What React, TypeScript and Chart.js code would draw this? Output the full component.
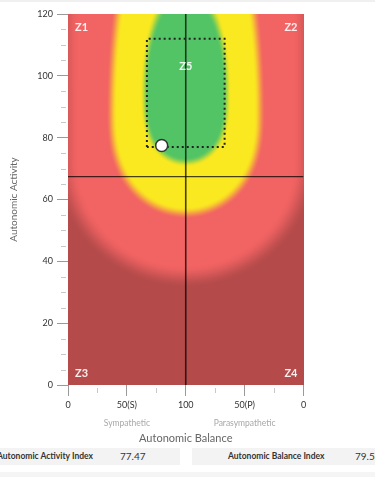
import React, { useEffect, useRef } from 'react';
import { Chart, registerables } from 'chart.js';

Chart.register(...registerables);

// ---- data ----
const X_TICK_VALUES = [0, 50, 100, 150, 200];
const X_TICK_LABELS = ['0', '50(S)', '100', '50(P)', '0'];
const Y_TICK_VALUES = [0, 20, 40, 60, 80, 100, 120];
const X_MINOR_TICKS = [25, 75, 125, 175];
const Y_MINOR_TICKS = [5, 10, 15, 25, 30, 35, 45, 50, 55, 65, 70, 75, 85, 90, 95, 105, 110, 115];
const BALANCE_INDEX = 79.56;
const ACTIVITY_INDEX = 77.47;
const CROSS_X = 100;
const CROSS_Y = 67.4;
const TARGET_X = [67, 133];
const TARGET_Y = [77, 112];
// zone shapes: [centerX, centerY, radiusX, radiusYAbove, radiusYBelow, exponentBelow]
const GREEN_ZONE = [100, 95, 35, 33.6, 23, 3];
const YELLOW_ZONE = [100, 88, 63, 82, 32.4, 2.5];
const RED_ZONE = [100, 72, 101, 1000, 37, 2];
const ZONE_NAMES = ['Z1', 'Z2', 'Z3', 'Z4', 'Z5'];
const Z5_POS = [100, 103];
const X_SIDE_LABELS = ['Sympathetic', 'Parasympathetic'];
const X_SIDE_POS = [50, 150];
const X_TITLE = 'Autonomic Balance';
const Y_TITLE = 'Autonomic Activity';

const COL_DARK = [180, 74, 74];
const COL_RED = [242, 99, 99];
const COL_YELLOW = [250, 232, 32];
const COL_GREEN = [82, 196, 102];

const FONT = 'Lato, "Open Sans", sans-serif';

function zoneAlpha(z: number[], x: number, y: number, soft: number) {
  const [cx, cy, rx, ryT, ryB, pB] = z;
  const dx = Math.abs(x - cx) / rx;
  let f: number;
  if (y >= cy) {
    const dy = (y - cy) / ryT;
    f = dx * dx + dy * dy;
  } else {
    const dy = (cy - y) / ryB;
    f = dx * dx + Math.pow(dy, pB);
  }
  const r = Math.sqrt(f);
  let t = (1 + soft - r) / (2 * soft);
  t = Math.max(0, Math.min(1, t));
  return t * t * (3 - 2 * t);
}

const heatmapPlugin = {
  id: 'heatmap',
  beforeDatasetsDraw(chart: any) {
    const { ctx, chartArea, scales } = chart;
    const xs = scales.x;
    const ys = scales.y;
    const l = Math.round(chartArea.left);
    const t = Math.round(chartArea.top);
    const w = Math.round(chartArea.right) - l;
    const h = Math.round(chartArea.bottom) - t;
    const off = document.createElement('canvas');
    off.width = w;
    off.height = h;
    const octx = off.getContext('2d')!;
    const img = octx.createImageData(w, h);
    const layers: [number[], number[], number][] = [
      [RED_ZONE, COL_RED, 0.1],
      [YELLOW_ZONE, COL_YELLOW, 0.075],
      [GREEN_ZONE, COL_GREEN, 0.1],
    ];
    for (let j = 0; j < h; j++) {
      const yv = ys.getValueForPixel(t + j + 0.5);
      for (let i = 0; i < w; i++) {
        const xv = xs.getValueForPixel(l + i + 0.5);
        let c = COL_DARK.slice();
        for (const [z, col, s] of layers) {
          const a = zoneAlpha(z, xv, yv, s);
          if (a > 0) {
            c = [c[0] + (col[0] - c[0]) * a, c[1] + (col[1] - c[1]) * a, c[2] + (col[2] - c[2]) * a];
          }
        }
        const k = (j * w + i) * 4;
        img.data[k] = c[0];
        img.data[k + 1] = c[1];
        img.data[k + 2] = c[2];
        img.data[k + 3] = 255;
      }
    }
    octx.putImageData(img, 0, 0);
    ctx.save();
    ctx.drawImage(off, l, t);
    ctx.restore();
  },
  afterDraw(chart: any) {
    const { ctx, chartArea, scales } = chart;
    const xs = scales.x;
    const ys = scales.y;
    ctx.save();
    // minor ticks
    ctx.strokeStyle = '#c8c8c8';
    ctx.lineWidth = 1;
    for (const v of Y_MINOR_TICKS) {
      const py = Math.round(ys.getPixelForValue(v)) + 0.5;
      ctx.beginPath();
      ctx.moveTo(chartArea.left - 7, py);
      ctx.lineTo(chartArea.left - 2, py);
      ctx.stroke();
    }
    for (const v of X_MINOR_TICKS) {
      const px = Math.round(xs.getPixelForValue(v)) + 0.5;
      ctx.beginPath();
      ctx.moveTo(px, chartArea.bottom + 3);
      ctx.lineTo(px, chartArea.bottom + 8);
      ctx.stroke();
    }
    // side labels
    ctx.fillStyle = '#a8a8a8';
    ctx.font = `8.5px ${FONT}`;
    ctx.textAlign = 'center';
    ctx.textBaseline = 'middle';
    X_SIDE_LABELS.forEach((s, i) => {
      ctx.fillText(s, xs.getPixelForValue(X_SIDE_POS[i]), chartArea.bottom + 38);
    });
    // zone labels
    ctx.fillStyle = 'rgba(255,255,255,0.9)';
    ctx.font = `bold 11px ${FONT}`;
    ctx.textBaseline = 'middle';
    ctx.textAlign = 'left';
    ctx.fillText(ZONE_NAMES[0], chartArea.left + 7, chartArea.top + 13);
    ctx.fillText(ZONE_NAMES[2], chartArea.left + 7, chartArea.bottom - 12);
    ctx.textAlign = 'right';
    ctx.fillText(ZONE_NAMES[1], chartArea.right - 6, chartArea.top + 13);
    ctx.fillText(ZONE_NAMES[3], chartArea.right - 6, chartArea.bottom - 12);
    ctx.textAlign = 'center';
    ctx.fillText(ZONE_NAMES[4], xs.getPixelForValue(Z5_POS[0]), ys.getPixelForValue(Z5_POS[1]));
    ctx.restore();
  },
};

export default function App() {
  const ref = useRef<HTMLCanvasElement>(null);
  useEffect(() => {
    if (!ref.current) return;
    const chart = new Chart(ref.current, {
      type: 'scatter',
      data: {
        datasets: [
          {
            data: [{ x: BALANCE_INDEX, y: ACTIVITY_INDEX }],
            pointRadius: 6,
            pointBackgroundColor: '#ffffff',
            pointBorderColor: '#333333',
            pointBorderWidth: 1.5,
          },
          {
            data: [
              { x: TARGET_X[0], y: TARGET_Y[0] },
              { x: TARGET_X[0], y: TARGET_Y[1] },
              { x: TARGET_X[1], y: TARGET_Y[1] },
              { x: TARGET_X[1], y: TARGET_Y[0] },
              { x: TARGET_X[0], y: TARGET_Y[0] },
            ],
            showLine: true,
            borderColor: '#222222',
            borderWidth: 2,
            borderDash: [2, 3],
            pointRadius: 0,
            fill: false,
          },
          {
            data: [
              { x: CROSS_X, y: 0 },
              { x: CROSS_X, y: 120 },
            ],
            showLine: true,
            borderColor: 'rgba(0,0,0,0.72)',
            borderWidth: 1.6,
            pointRadius: 0,
          },
          {
            data: [
              { x: 0, y: CROSS_Y },
              { x: 200, y: CROSS_Y },
            ],
            showLine: true,
            borderColor: 'rgba(0,0,0,0.72)',
            borderWidth: 1.3,
            pointRadius: 0,
          },
        ],
      },
      options: {
        animation: false,
        responsive: false,
        devicePixelRatio: 1,
        layout: { padding: { left: 0, right: 71.5, top: 14, bottom: 0 } },
        plugins: { legend: { display: false }, tooltip: { enabled: false } },
        scales: {
          x: {
            type: 'linear',
            min: 0,
            max: 200,
            afterBuildTicks: (s: any) => {
              s.ticks = X_TICK_VALUES.map((v) => ({ value: v }));
            },
            afterFit: (s: any) => {
              s.height = 60;
            },
            ticks: {
              callback: (_v: any, i: number) => X_TICK_LABELS[i],
              color: '#333',
              font: { family: FONT, size: 9 },
              padding: 4,
              maxRotation: 0,
              autoSkip: false,
            },
            grid: { drawOnChartArea: false, color: '#9a9a9a', tickLength: 11 },
            border: { display: false },
            title: {
              display: true,
              text: X_TITLE,
              color: '#666',
              font: { family: FONT, size: 11 },
              padding: { top: 0, bottom: 0 },
            },
          },
          y: {
            type: 'linear',
            min: 0,
            max: 120,
            afterBuildTicks: (s: any) => {
              s.ticks = Y_TICK_VALUES.map((v) => ({ value: v }));
            },
            afterFit: (s: any) => {
              s.width = 68;
            },
            ticks: {
              color: '#333',
              font: { family: FONT, size: 9 },
              padding: 4,
              autoSkip: false,
            },
            grid: { drawOnChartArea: false, color: '#9a9a9a', tickLength: 11 },
            border: { display: false },
            title: {
              display: true,
              text: Y_TITLE,
              color: '#666',
              font: { family: FONT, size: 10 },
              padding: { top: 8, bottom: 0 },
            },
          },
        },
      },
      plugins: [heatmapPlugin],
    } as any);
    return () => chart.destroy();
  }, []);

  const boxText: React.CSSProperties = {
    position: 'absolute',
    top: 0,
    lineHeight: '17px',
    whiteSpace: 'nowrap',
    color: '#333',
  };

  return (
    <div
      style={{
        position: 'fixed',
        left: 0,
        top: 0,
        width: 375,
        height: 477,
        background: '#fff',
        overflow: 'hidden',
        fontFamily: FONT,
      }}
    >
      <div style={{ position: 'absolute', left: 0, top: 0, width: 375, height: 2, background: '#f0f0f0' }} />
      <canvas ref={ref} width={375} height={445} style={{ position: 'absolute', left: 0, top: 0 }} />
      <div style={{ position: 'absolute', left: 0, top: 448, width: 180, height: 17, background: '#f3f3f3' }}>
        <span style={{ ...boxText, left: -3, fontSize: 8.5, fontWeight: 700 }}>Autonomic Activity Index</span>
        <span style={{ ...boxText, left: 120, fontSize: 10 }}>{ACTIVITY_INDEX.toFixed(2)}</span>
      </div>
      <div style={{ position: 'absolute', left: 192, top: 448, width: 183, height: 17, background: '#f3f3f3' }}>
        <span style={{ ...boxText, left: 36, fontSize: 8.5, fontWeight: 700 }}>Autonomic Balance Index</span>
        <span style={{ ...boxText, left: 163, fontSize: 10 }}>{BALANCE_INDEX.toFixed(2)}</span>
      </div>
      <div style={{ position: 'absolute', left: 0, top: 472, width: 375, height: 5, background: '#f5f5f5' }} />
    </div>
  );
}
